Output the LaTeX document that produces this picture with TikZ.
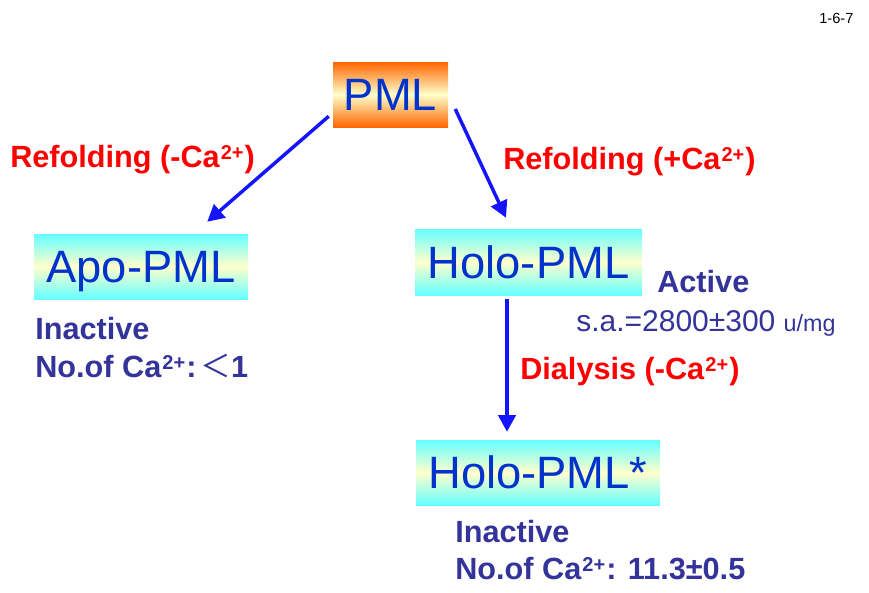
\documentclass[tikz,border=0pt]{standalone}
\usepackage{fontspec}
\setmainfont{Liberation Sans}
\newfontfamily\cjk{Noto Sans CJK SC}
\usetikzlibrary{arrows.meta}
\definecolor{pmlblue}{RGB}{0,51,204}
\definecolor{notegray}{RGB}{51,51,153}
\definecolor{arrowblue}{RGB}{20,20,255}
\definecolor{pmlorange}{RGB}{255,102,0}
\definecolor{palecyan}{RGB}{102,255,255}
\definecolor{paleyellow}{RGB}{255,255,204}
\newcommand{\ionsup}[1]{\kern0.8pt\raisebox{5.8pt}{\fontsize{15}{15}\selectfont #1}\kern0.8pt}

\begin{document}
\begin{tikzpicture}[x=0.75pt,y=-0.75pt,
        formbox/.style={inner sep=0pt, text=pmlblue, text height=24.3pt, text depth=0pt, font=\fontsize{34}{40}\selectfont},
        orangebox/.style={formbox, top color=pmlorange, bottom color=pmlorange, middle color=paleyellow},
        cyanbox/.style={formbox, top color=palecyan, bottom color=palecyan, middle color=paleyellow},
        redlabel/.style={anchor=base west, inner sep=0pt, text=red, font=\fontsize{23}{27}\selectfont\bfseries},
        notelabel/.style={anchor=base west, inner sep=0pt, text=notegray, font=\fontsize{23}{27}\selectfont\bfseries},
        plainlabel/.style={anchor=base west, inner sep=0pt, text=notegray, font=\fontsize{22.5}{27}\selectfont},
        link/.style={draw=arrowblue, line width=2.6pt, -{Triangle[length=12.5pt,width=13pt]}}]

        \useasboundingbox (0,0) rectangle (869,593);

            \node[orangebox, minimum width=86.25pt, minimum height=48.75pt] (PML) at (390.5,94.5) {PML};
            \node[cyanbox, minimum width=160.5pt, minimum height=48.75pt] (Apo) at (141,266.5) {Apo-PML};
            \node[cyanbox, minimum width=170.25pt, minimum height=49.5pt] (Holo) at (528.5,262) {Holo-PML};
            \node[cyanbox, minimum width=183pt, minimum height=48.75pt] (HoloStar) at (538,472.5) {Holo-PML*};

            \node[anchor=base west, inner sep=0pt, font=\fontsize{11}{13}\selectfont] (pagenum) at (819,23) {1-6-7};

            \node[redlabel] (refoldminus) at (10,167) {Refolding (-Ca\ionsup{2+})};
            \node[redlabel] (refoldplus) at (503,169) {Refolding (+Ca\ionsup{2+})};
            \node[redlabel] (dialysis) at (520,379) {Dialysis (-Ca\ionsup{2+})};

            \node[notelabel] (apoinactive) at (35,339) {Inactive};
            \node[notelabel] (apocalcium) at (35,377) {No.of Ca\ionsup{2+}:\hspace{3pt}{\cjk\mdseries ＜}1};
            \node[notelabel] (holoactive) at (657,292) {Active};
            \node[plainlabel] (holoactivity) at (576,331) {s.a.=2800±300 {\fontsize{17.5}{20}\selectfont u/mg}};
            \node[notelabel] (starinactive) at (455,542) {Inactive};
            \node[notelabel] (starcalcium) at (455,579) {No.of Ca\ionsup{2+}: 11.3±0.5};

            \draw[link] ([shift={(-4,-11)}]PML.south west) -- ([shift={(-41,-12)}]Apo.north east);
            \draw[link] ([shift={(7,14.5)}]PML.east) -- ([shift={(-22.5,-11)}]Holo.north);
            \draw[link] ([shift={(-21.5,4)}]Holo.south) -- ([shift={(-31,-8)}]HoloStar.north);
        \end{tikzpicture}
\end{document}
